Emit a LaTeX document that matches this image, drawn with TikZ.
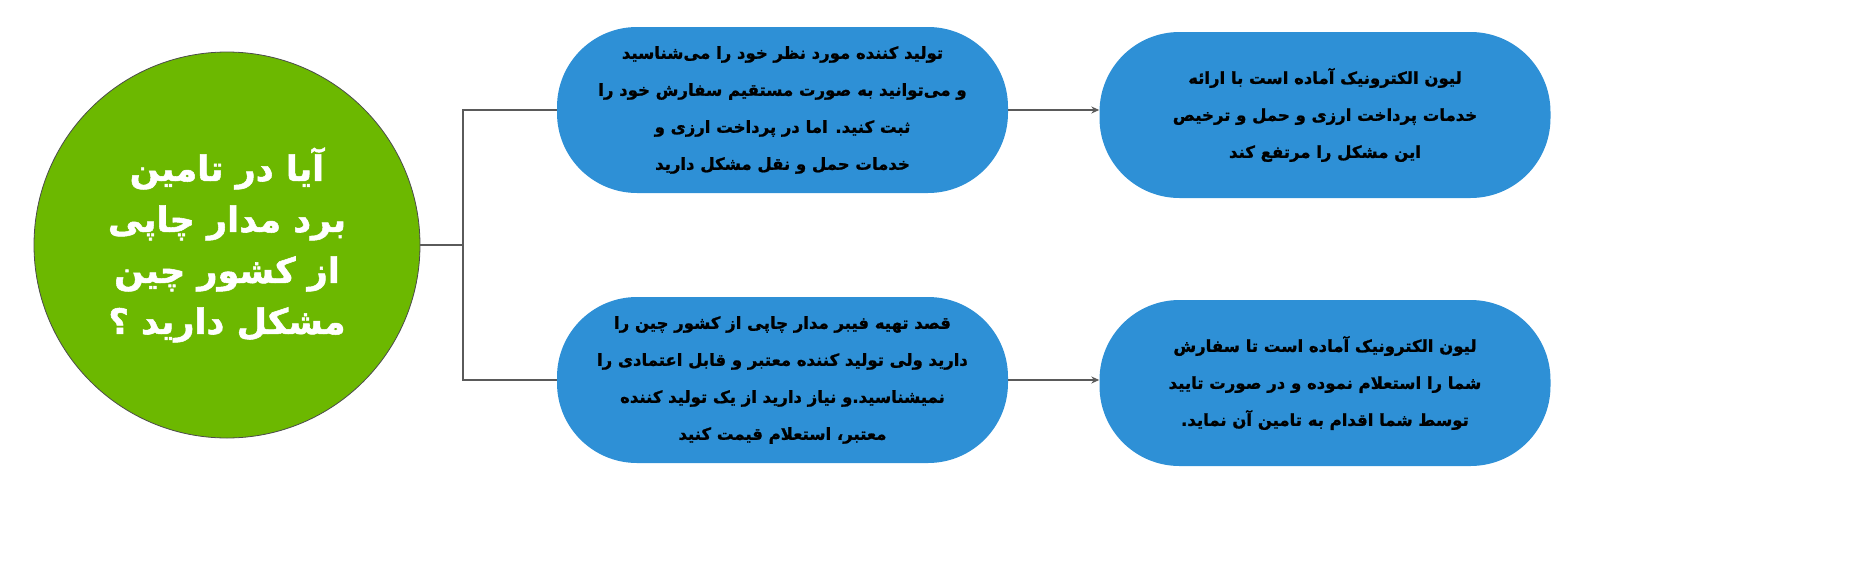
\documentclass[tikz,border=0pt]{standalone}
\usepackage{fontspec}
\usetikzlibrary{arrows.meta}
\TeXXeTstate=1
\newfontfamily\fafont[Script=Arabic,FakeBold=1.2]{DejaVu Sans Bold}
\newfontfamily\fabigfont[Script=Arabic,FakeBold=1.5]{DejaVu Sans Bold}
\definecolor{boxblue}{RGB}{46,144,214}
\definecolor{circgreen}{RGB}{108,184,0}
\definecolor{linegray}{RGB}{90,90,90}
\newcommand{\rl}[1]{\beginR #1\endR}
\tikzset{
  stadium/.style={draw=none, fill=boxblue, rounded corners=80pt, minimum width=451pt, minimum height=166pt, align=center, text=black, font=\fafont\fontsize{16.5}{37}\selectfont, inner sep=0pt},
  bigcirc/.style={circle, draw=black!70, line width=0.8pt, fill=circgreen, minimum size=386pt, align=center, text=white, font=\fabigfont\fontsize{35}{51}\selectfont, inner sep=0pt},
  conn/.style={draw=linegray, line width=2pt},
  arr/.style={draw=linegray, line width=1.6pt, -{Stealth[length=8pt,width=7pt]}}
}
\begin{document}
\begin{tikzpicture}[x=1pt,y=-1pt]
\useasboundingbox (0,0) rectangle (1858,576);
\node[bigcirc] (q) at (227,245) {\rl{آیا در تامین}\\\rl{برد مدار چاپی}\\\rl{از کشور چین}\\\rl{مشکل دارید ؟}};
\node[stadium] (a) at (782.5,110) {\rl{تولید کننده مورد نظر خود را می‌شناسید}\\\rl{و می‌توانید به صورت مستقیم سفارش خود را}\\\rl{ثبت کنید. اما در پرداخت ارزی و}\\\rl{خدمات حمل و نقل مشکل دارید}};
\node[stadium] (c) at (782.5,380) {\rl{قصد تهیه فیبر مدار چاپی از کشور چین را}\\\rl{دارید ولی تولید کننده معتبر و قابل اعتمادی را}\\\rl{نمیشناسید.و نیاز دارید از یک تولید کننده}\\\rl{معتبر، استعلام قیمت کنید}};
\node[stadium] (b) at (1325,115) {\rl{لیون الکترونیک آماده است با ارائه}\\\rl{خدمات پرداخت ارزی و حمل و ترخیص}\\\rl{این مشکل را مرتفع کند}};
\node[stadium] (d) at (1325,383) {\rl{لیون الکترونیک آماده است تا سفارش}\\\rl{شما را استعلام نموده و در صورت تایید}\\\rl{توسط شما اقدام به تامین آن نماید.}};
\coordinate (j) at (463,245);
\draw[conn] (q.east) -- (j);
\draw[conn] (a.west) -| (j) |- (c.west);
\draw[arr] (a.east) -- (b.west |- a.east);
\draw[arr] (c.east) -- (d.west |- c.east);
\end{tikzpicture}
\end{document}
